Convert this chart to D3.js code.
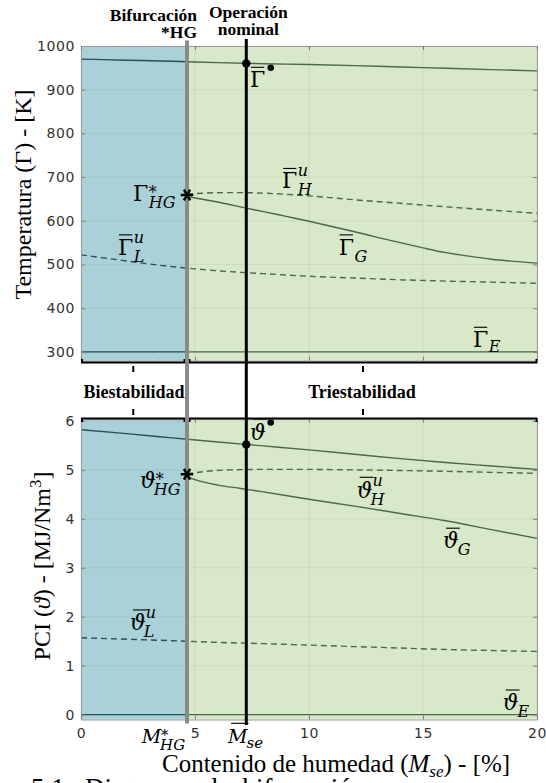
<!DOCTYPE html>
<html>
<head>
<meta charset="utf-8">
<script src="https://cdn.jsdelivr.net/npm/d3@7"></script>
<style>
  body { margin: 0; background: #fff; }
  svg { display: block; }
</style>
</head>
<body>
<svg id="fig" width="546" height="783"></svg>
<script>
// ---- Data: bifurcation diagram of the gasifier vs. feed moisture ----
const moistureTicks = [0, 5, 10, 15, 20];
const tempTicks = [300, 400, 500, 600, 700, 800, 900, 1000];
const pciTicks = [0, 1, 2, 3, 4, 5, 6];

const bifurcationMoisture = 4.65;   // M*_HG
const nominalMoisture = 7.25;       // nominal operating moisture

// Temperature branches [K]
const tempUpperM = [0, 2, 4, 6, 8, 10, 12, 14, 16, 18, 20];
const tempUpper = [970, 967.5, 965, 962, 959.5, 957.5, 955, 952, 949, 946, 943];
const tempHighUnstM = [4.65, 5.5, 6.5, 7.5, 8.5, 10, 12, 14, 16, 18, 20];
const tempHighUnst = [661, 663.5, 664.5, 664, 662, 657, 648, 640, 632, 624.5, 617];
const tempGM = [4.65, 6, 7.25, 8, 9, 10, 11, 12, 13, 14, 15, 16, 17, 18, 19, 20];
const tempG = [655, 643, 629, 621, 610, 599, 587, 575, 562, 550, 538, 527, 519, 512, 507, 503];
const tempLowUnstM = [0, 1, 2, 3, 4, 5, 6, 7, 8, 10, 12, 14, 16, 18, 20];
const tempLowUnst = [522, 515, 508, 501, 495, 490, 485.5, 482, 479, 473, 469, 465, 462, 459.5, 457];
const tempExtM = [0, 20];
const tempExt = [300, 300];

// Lower heating value branches [MJ/Nm3]
const pciUpperM = [0, 2, 4, 6, 8, 10, 12, 14, 16, 18, 20];
const pciUpper = [5.82, 5.74, 5.655, 5.57, 5.49, 5.41, 5.32, 5.23, 5.15, 5.08, 5.01];
const pciHighUnstM = [4.65, 5.5, 6.5, 8, 10, 12, 15, 18, 20];
const pciHighUnst = [4.92, 4.97, 5.0, 5.01, 5.01, 5.0, 4.98, 4.95, 4.93];
const pciGM = [4.65, 5, 6, 7, 8, 10, 12, 14, 16, 18, 20];
const pciG = [4.86, 4.80, 4.69, 4.62, 4.55, 4.40, 4.26, 4.11, 3.96, 3.78, 3.60];
const pciLowUnstM = [0, 2, 4, 6, 8, 10, 12, 14, 16, 18, 20];
const pciLowUnst = [1.57, 1.54, 1.51, 1.475, 1.45, 1.42, 1.39, 1.36, 1.33, 1.31, 1.29];
const pciExtM = [0, 20];
const pciExt = [0, 0];

// Special points
const bifurcationTemp = 659;
const bifurcationPCI = 4.91;
const nominalTemp = 960;
const nominalPCI = 5.52;

// ---- Layout & style ----
const svg = d3.select("#fig");
const defs = svg.append("defs");
const blueFill = "#aad0d8";
const greenFill = "#d7e9c8";
const lineBlue = "#24525c";
const lineGreen = "#4b6848";
const frameColor = "#9a9a9a";
const serif = "'Liberation Serif', 'Times New Roman', serif";
const mathFont = "'DejaVu Serif', 'Liberation Serif', serif";
const sans = "'DejaVu Sans', sans-serif";

const x = d3.scaleLinear().domain([0, 20]).range([81, 537]);
const yT = d3.scaleLinear().domain([280, 1000]).range([360.6, 46]);
const yP = d3.scaleLinear().domain([-0.1, 6.05]).range([719.5, 418.5]);

function zip(ms, vs) { return ms.map((m, i) => [m, vs[i]]); }

function panel(id, y, yTicks, curves, showX, dotted) {
  const g = svg.append("g");
  const [yb, yt] = y.range();
  const xl = x(0), xr = x(20), xb = x(bifurcationMoisture);

  defs.append("clipPath").attr("id", id + "-blue").append("rect")
    .attr("x", xl).attr("y", yt).attr("width", xb - xl).attr("height", yb - yt);
  defs.append("clipPath").attr("id", id + "-green").append("rect")
    .attr("x", xb).attr("y", yt).attr("width", xr - xb).attr("height", yb - yt);

  g.append("rect").attr("x", xl).attr("y", yt).attr("width", xb - xl).attr("height", yb - yt).attr("fill", blueFill);
  g.append("rect").attr("x", xb).attr("y", yt).attr("width", xr - xb).attr("height", yb - yt).attr("fill", greenFill);
  if (dotted) {
    g.append("rect").attr("x", xl + 0.5).attr("y", yt + 0.5).attr("width", xb - xl - 1).attr("height", yb - yt - 1)
      .attr("fill", "none").attr("stroke", "#ecebb0").attr("stroke-width", 1.6).attr("stroke-dasharray", "1.6,36");
  }

  // grid
  const grid = g.append("g").attr("stroke", "#3d5a3d").attr("stroke-opacity", 0.08).attr("stroke-width", 1);
  yTicks.forEach(v => grid.append("line").attr("x1", xl).attr("x2", xr).attr("y1", y(v)).attr("y2", y(v)));
  moistureTicks.forEach(v => grid.append("line").attr("x1", x(v)).attr("x2", x(v)).attr("y1", yt).attr("y2", yb));

  // curves, tinted per stability region
  const line = d3.line().x(d => x(d[0])).y(d => y(d[1])).curve(d3.curveMonotoneX);
  [["blue", lineBlue], ["green", lineGreen]].forEach(([region, col]) => {
    const cg = g.append("g").attr("clip-path", `url(#${id}-${region})`);
    curves.forEach(c => {
      cg.append("path").attr("d", line(c.data)).attr("fill", "none")
        .attr("stroke", col).attr("stroke-width", 1.4)
        .attr("stroke-dasharray", c.dashed ? "6,4" : null);
    });
  });

  // box axes with inward ticks
  const axL = d3.axisLeft(y).tickValues(yTicks).tickSize(-4).tickSizeOuter(0).tickPadding(6).tickFormat(d3.format("d"));
  const axR = d3.axisRight(y).tickValues(yTicks).tickSize(-4).tickSizeOuter(0).tickFormat("");
  const axT = d3.axisTop(x).tickValues(moistureTicks).tickSize(-4).tickSizeOuter(0).tickFormat("");
  const axB = d3.axisBottom(x).tickValues(moistureTicks).tickSize(-4).tickSizeOuter(0).tickPadding(8.5)
    .tickFormat(showX ? d3.format("d") : "");
  const axes = [
    g.append("g").attr("transform", `translate(${xl},0)`).call(axL),
    g.append("g").attr("transform", `translate(${xr},0)`).call(axR),
    g.append("g").attr("transform", `translate(0,${yt})`).call(axT),
    g.append("g").attr("transform", `translate(0,${yb})`).call(axB)
  ];
  axes.forEach(a => {
    a.select(".domain").attr("stroke", frameColor);
    a.selectAll(".tick line").attr("stroke", "#7d7d7d");
    a.selectAll(".tick text").attr("fill", "#333").attr("font-family", sans)
      .attr("font-size", 14).attr("letter-spacing", "0.6px");
  });
  return g;
}

const topG = panel("temp", yT, tempTicks, [
  { data: zip(tempUpperM, tempUpper) },
  { data: zip(tempHighUnstM, tempHighUnst), dashed: true },
  { data: zip(tempGM, tempG) },
  { data: zip(tempLowUnstM, tempLowUnst), dashed: true },
  { data: zip(tempExtM, tempExt) }
], false, true);

const botG = panel("pci", yP, pciTicks, [
  { data: zip(pciUpperM, pciUpper) },
  { data: zip(pciHighUnstM, pciHighUnst), dashed: true },
  { data: zip(pciGM, pciG) },
  { data: zip(pciLowUnstM, pciLowUnst), dashed: true },
  { data: zip(pciExtM, pciExt) }
], true, false);

// ---- Math-style curve labels ----
function mathLabel(g, px, py, o) {
  const size = o.size || 22, ss = o.ssize || 16;
  const t = g.append("text").attr("x", px).attr("y", py)
    .attr("font-family", mathFont).attr("font-size", size)
    .attr("font-style", o.italic ? "italic" : "normal").text(o.base);
  const w = t.node().getComputedTextLength();
  if (o.bar) {
    const off = o.barOff || 20;
    g.append("line").attr("x1", px + (o.italic ? 3 : 1)).attr("x2", px + w + (o.italic ? 1 : -1))
      .attr("y1", py - off).attr("y2", py - off).attr("stroke", "#000").attr("stroke-width", 1.1);
  }
  const sx = px + w + (o.italic ? 0 : 0.5);
  if (o.sup) {
    g.append("text").attr("x", sx).attr("y", py + (o.sup === "*" ? -3 : -12))
      .attr("font-family", mathFont).attr("font-size", ss).attr("font-style", "italic").text(o.sup);
  }
  if (o.sub) {
    g.append("text").attr("x", sx + (o.subShift || 0)).attr("y", py + (o.subDy || 7))
      .attr("font-family", mathFont).attr("font-size", ss).attr("font-style", "italic").text(o.sub);
  }
  if (o.bullet) {
    g.append("circle").attr("cx", sx + 5).attr("cy", py - (o.bulletDy || 19)).attr("r", 3.3).attr("fill", "#000");
  }
}

const lab = svg.append("g");
// temperature panel
mathLabel(lab, x(7.41), yT(905.5), { base: "Γ", bar: true, bullet: true, bulletDy: 19.5 });
mathLabel(lab, x(2.28), yT(646), { base: "Γ", sup: "*", sub: "HG" });
mathLabel(lab, x(8.82), yT(674), { base: "Γ", bar: true, sup: "u", sub: "H" });
mathLabel(lab, x(1.62), yT(522), { base: "Γ", bar: true, sup: "u", sub: "L" });
mathLabel(lab, x(11.3), yT(522), { base: "Γ", bar: true, sub: "G" });
mathLabel(lab, x(17.19), yT(310.5), { base: "Γ", bar: true, sub: "E", subDy: 5 });
// heating value panel
mathLabel(lab, x(7.41), yP(5.61), { base: "ϑ", italic: true, bar: true, bullet: true, bulletDy: 17.5, barOff: 21 });
mathLabel(lab, x(2.59), yP(4.63), { base: "ϑ", italic: true, sup: "*", sub: "HG", subShift: -2 });
mathLabel(lab, x(12.09), yP(4.42), { base: "ϑ", italic: true, bar: true, barOff: 21, sup: "u", sub: "H", subShift: -2 });
mathLabel(lab, x(15.88), yP(3.40), { base: "ϑ", italic: true, bar: true, barOff: 20, sub: "G", subShift: -1 });
mathLabel(lab, x(2.15), yP(1.73), { base: "ϑ", italic: true, bar: true, barOff: 20, sup: "u", sub: "L", subShift: -2 });
mathLabel(lab, x(18.5), yP(0.094), { base: "ϑ", italic: true, bar: true, barOff: 20, sub: "E", subShift: -1 });

// ---- Axis titles ----
const yl1 = svg.append("text").attr("transform", `translate(31,${194.5}) rotate(-90)`)
  .attr("text-anchor", "middle").attr("font-family", serif).attr("font-size", 24).attr("fill", "#000");
yl1.append("tspan").text("Temperatura (Γ) - [K]");

const yl2 = svg.append("text").attr("transform", `translate(50,${566}) rotate(-90)`)
  .attr("text-anchor", "middle").attr("font-family", serif).attr("font-size", 24).attr("fill", "#000");
yl2.append("tspan").text("PCI (");
yl2.append("tspan").attr("font-style", "italic").text("ϑ");
yl2.append("tspan").text(") - [MJ/Nm");
yl2.append("tspan").attr("font-size", 17).attr("dy", -9).text("3");
yl2.append("tspan").attr("dy", 9).text("]");

const xlab = svg.append("text").attr("x", 162).attr("y", 771.5)
  .attr("font-family", serif).attr("font-size", 25).attr("fill", "#000");
xlab.append("tspan").text("Contenido de humedad (");
xlab.append("tspan").attr("font-style", "italic").text("M");
xlab.append("tspan").attr("font-style", "italic").attr("font-size", 17).attr("dy", 5).text("se");
xlab.append("tspan").attr("dy", -5).text(") - [%]");

// moisture markers under the axis
mathLabel(svg, x(2.66), 743.3, { base: "M", italic: true, size: 19, ssize: 15, sup: "*", sub: "HG", subShift: -1, subDy: 6.5 });
mathLabel(svg, x(6.45), 743.3, { base: "M", italic: true, size: 19, ssize: 15, bar: true, barOff: 20, sub: "se", subShift: -1, subDy: 4.5 });

// caption line running off the bottom edge
svg.append("text").attr("x", 31).attr("y", 797).attr("font-family", serif).attr("font-size", 27)
  .attr("word-spacing", "6px").text("5.1:  Diagrama de bifurcación");

// ---- Stability region braces ----
function brace(x0, x1, yLine, dir) {
  // dir = +1: hooks point up, centre tick points down; dir = -1: the reverse
  const b = svg.append("g").attr("stroke", "#000").attr("fill", "none");
  const xm = (x0 + x1) / 2;
  b.append("path").attr("stroke-width", 2)
    .attr("d", `M${x0},${yLine - dir * 3.5}V${yLine}H${x1}V${yLine - dir * 3.5}`);
  b.append("line").attr("stroke-width", 2).attr("x1", xm).attr("x2", xm)
    .attr("y1", yLine + dir * 3.5).attr("y2", yLine + dir * 9.5);
}
const xb = x(bifurcationMoisture);
brace(x(0) + 1, xb - 2.5, 362.5, 1);
brace(xb + 2.5, x(20) - 0.5, 362.5, 1);
brace(x(0) + 1, xb - 2.5, 418.5, -1);
brace(xb + 2.5, x(20) - 0.5, 418.5, -1);

svg.append("text").attr("x", (x(0) + xb) / 2).attr("y", 397.5).attr("text-anchor", "middle")
  .attr("font-family", serif).attr("font-weight", "bold").attr("font-size", 18).text("Biestabilidad");
svg.append("text").attr("x", (xb + x(20)) / 2).attr("y", 397.5).attr("text-anchor", "middle")
  .attr("font-family", serif).attr("font-weight", "bold").attr("font-size", 18).text("Triestabilidad");

// ---- Vertical markers: bifurcation point and nominal operation ----
svg.append("line").attr("x1", xb).attr("x2", xb).attr("y1", 40.5).attr("y2", 723.5)
  .attr("stroke", "#8a8a8a").attr("stroke-width", 4);
const xn = x(nominalMoisture);
svg.append("line").attr("x1", xn).attr("x2", xn).attr("y1", 39).attr("y2", 725)
  .attr("stroke", "#000").attr("stroke-width", 3);

svg.append("text").attr("x", xb + 10).attr("y", 20.5).attr("text-anchor", "end")
  .attr("font-family", serif).attr("font-weight", "bold").attr("font-size", 17.5).text("Bifurcación");
svg.append("text").attr("x", xb + 10).attr("y", 37.7).attr("text-anchor", "end")
  .attr("font-family", serif).attr("font-weight", "bold").attr("font-size", 17.5).text("*HG");
svg.append("text").attr("x", xn + 2).attr("y", 18).attr("text-anchor", "middle")
  .attr("font-family", serif).attr("font-weight", "bold").attr("font-size", 17.5).text("Operación");
svg.append("text").attr("x", xn + 2).attr("y", 35).attr("text-anchor", "middle")
  .attr("font-family", serif).attr("font-weight", "bold").attr("font-size", 17.5).text("nominal");

// ---- Points: nominal operation and bifurcation stars ----
svg.append("circle").attr("cx", xn).attr("cy", yT(nominalTemp)).attr("r", 4.2).attr("fill", "#000");
svg.append("circle").attr("cx", xn).attr("cy", yP(nominalPCI)).attr("r", 4.2).attr("fill", "#000");

const starType = d3.symbolAsterisk || d3.symbolStar;
const star = d3.symbol().type(starType).size(d3.symbolAsterisk ? 110 : 70);
[[bifurcationTemp, yT], [bifurcationPCI, yP]].forEach(([v, ys]) => {
  svg.append("path").attr("d", star())
    .attr("transform", `translate(${xb},${ys(v)}) rotate(90)`)
    .attr("fill", d3.symbolAsterisk ? "none" : "#000")
    .attr("stroke", "#000").attr("stroke-width", d3.symbolAsterisk ? 2.4 : 1);
});
</script>
</body>
</html>
